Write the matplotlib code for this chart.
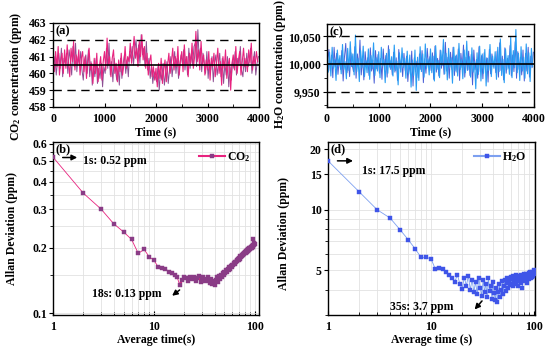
import numpy as np
import matplotlib
matplotlib.use('Agg')
import matplotlib.pyplot as plt
from matplotlib.ticker import FixedLocator, FixedFormatter, NullFormatter, MultipleLocator

# ---- data ----
# CO2 time series (pink trace), one value every 25 s
co2 = [460.9, 460.1, 461.3, 460.4, 461.6, 459.9, 460.8, 461.2, 460.0, 461.4,
       460.3, 461.7, 460.6, 459.8, 461.5, 460.7, 461.9, 460.2, 461.1, 460.5,
       461.4, 459.9, 460.9, 461.3, 460.1, 461.0, 459.7, 460.8, 461.5, 460.2,
       460.6, 459.4, 460.9, 460.0, 461.2, 459.5, 460.4, 461.0, 459.6, 460.7,
       461.3, 460.2, 462.1, 460.5, 461.0, 459.8, 460.9, 461.4, 460.0, 460.6,
       459.5, 460.8, 460.1, 461.2, 459.9, 460.5, 461.6, 460.3, 461.0, 460.7,
       461.8, 460.6, 461.3, 462.2, 460.9, 461.5, 460.4, 461.9, 461.0, 462.3,
       460.8, 461.6, 460.3, 461.2, 459.9, 460.7, 461.1, 459.8, 460.4, 459.6,
       460.3, 459.2, 460.6, 459.7, 460.9, 459.4, 460.2, 460.8, 459.5, 460.5,
       461.2, 460.0, 460.7, 461.5, 460.2, 461.0, 460.4, 461.6, 459.9, 460.8,
       461.3, 460.1, 461.7, 460.5, 461.0, 459.8, 461.2, 460.6, 461.8, 460.3,
       461.0, 462.5, 460.7, 461.4, 460.2, 461.9, 460.5, 461.1, 459.9, 460.8,
       460.2, 461.3, 459.6, 460.9, 460.4, 461.2, 459.8, 460.6, 461.5, 460.0,
       460.7, 459.3, 461.0, 460.3, 461.4, 459.7, 460.5, 460.9, 459.0, 460.6,
       461.1, 460.2, 461.6, 460.0, 460.8, 461.3, 459.9, 460.7, 461.5, 460.4,
       460.9, 460.1, 461.4, 460.6, 461.8, 460.2, 461.0, 460.5, 461.3, 460.7]
# CO2 time series (purple trace), half a step later
co2_b = [460.4, 461.0, 459.9, 460.7, 461.2, 460.3, 461.5, 459.8, 460.9, 460.6,
         461.2, 460.0, 461.4, 460.8, 459.9, 461.6, 460.4, 461.8, 460.1, 461.0,
         460.5, 461.3, 460.2, 459.6, 460.8, 461.1, 460.0, 461.4, 459.8, 460.7,
         459.3, 460.5, 459.8, 460.9, 459.4, 460.3, 459.7, 460.6, 459.2, 460.4,
         460.0, 461.5, 460.3, 461.8, 459.9, 460.7, 459.5, 460.9, 460.2, 459.6,
         460.4, 459.3, 460.9, 459.7, 460.6, 461.1, 460.0, 460.8, 459.8, 461.3,
         460.9, 461.6, 460.5, 461.4, 462.0, 460.8, 461.7, 460.6, 462.3, 461.1,
         461.5, 460.4, 461.9, 460.2, 460.9, 459.7, 460.5, 459.4, 460.1, 459.8,
         459.5, 460.4, 459.0, 460.1, 459.6, 460.6, 459.3, 460.0, 460.7, 459.4,
         460.2, 461.0, 459.8, 460.6, 461.3, 460.0, 460.9, 459.7, 460.5, 461.1,
         460.6, 461.4, 460.2, 461.0, 459.9, 461.5, 460.3, 461.2, 460.5, 461.6,
         461.8, 460.4, 462.6, 460.9, 461.5, 460.1, 461.2, 460.6, 460.0, 461.3,
         459.7, 460.8, 460.2, 461.0, 459.5, 460.6, 461.1, 459.9, 460.5, 461.2,
         459.8, 460.9, 459.4, 460.6, 459.9, 461.0, 459.2, 460.4, 459.6, 460.8,
         460.3, 461.3, 459.9, 460.9, 460.5, 461.6, 460.2, 459.8, 460.9, 460.1,
         461.2, 460.4, 460.8, 461.5, 460.0, 460.7, 461.3, 459.9, 460.6, 461.0]

# H2O time series (light blue trace), one value every 25 s
h2o = [10012, 9985, 10021, 9978, 10030, 9992, 10008, 9970, 10025, 9996,
       10015, 9982, 10035, 9990, 10004, 9973, 10028, 9988, 10040, 9995,
       10018, 9980, 10052, 9986, 10010, 9968, 10024, 9993, 10032, 9977,
       10006, 9984, 10027, 9972, 10015, 9991, 10038, 9979, 10011, 9987,
       10022, 9975, 10030, 9996, 10008, 9966, 10019, 9983, 10026, 9990,
       10013, 9978, 10034, 9988, 10005, 9962, 10020, 9985, 10029, 9993,
       10010, 9974, 10023, 9981, 10016, 9958, 10007, 9979, 10025, 9952,
       10012, 9970, 10031, 9986, 10018, 9976, 10036, 9992, 10009, 9980,
       10027, 9984, 10014, 9969, 10033, 9990, 10006, 9975, 10024, 9997,
       10044, 9982, 10019, 9971, 10028, 9994, 10011, 9965, 10030, 9987,
       10016, 9978, 10037, 9990, 10008, 9973, 10025, 9984, 10041, 9989,
       10013, 9976, 10029, 9985, 10004, 9955, 10020, 9981, 10032, 9969,
       10018, 9983, 10026, 9960, 10010, 9988, 10035, 9977, 10014, 9992,
       10022, 9972, 10030, 9986, 10045, 9979, 10008, 9966, 10027, 9990,
       10015, 9981, 10048, 9975, 10024, 9993, 10062, 9984, 10019, 9970,
       10031, 9987, 10012, 9974, 10036, 9982, 10020, 9968, 10028, 9995]
# H2O time series (dark blue trace), half a step later
h2o_b = [10003, 10026, 9988, 10016, 9975, 10030, 9994, 10019, 9981, 10009,
         9990, 10024, 9969, 10012, 10037, 9984, 10006, 9977, 10020, 9998,
         9986, 10031, 9974, 10018, 9992, 10043, 9980, 10014, 9971, 10022,
         9995, 10011, 9979, 10029, 9987, 10007, 9965, 10024, 9991, 10017,
         9983, 10010, 9972, 10027, 9989, 10015, 9976, 10033, 9994, 10006,
         9980, 10021, 9985, 10011, 9970, 10026, 9992, 10008, 9977, 10019,
         9988, 10014, 9968, 10002, 9981, 10023, 9960, 10011, 9986, 10005,
         9975, 10018, 9990, 10024, 9966, 10009, 9983, 10028, 9995, 10013,
         9988, 10020, 9972, 10032, 9985, 10010, 9978, 10025, 9992, 10016,
         9981, 10039, 9987, 10012, 9974, 10021, 9990, 10030, 9979, 10014,
         9985, 10027, 9970, 10019, 9993, 10034, 9976, 10012, 9988, 10023,
         9979, 10017, 9962, 10025, 9989, 10008, 9974, 10031, 9986, 10015,
         9973, 10020, 9990, 10011, 9967, 10026, 9982, 10018, 9995, 10007,
         9984, 10023, 9976, 10038, 9988, 10014, 9971, 10029, 9983, 10010,
         9992, 10033, 9978, 10016, 9986, 10040, 9974, 10022, 9990, 10012,
         9980, 10025, 9969, 10019, 9987, 10030, 9976, 10014, 9993, 10021]

dt = 25  # s between samples

# Allan deviation, tau = 1..100 s
tau = list(range(1, 101))
adev_co2 = [0.52, 0.355, 0.300, 0.257, 0.236, 0.218, 0.188, 0.196, 0.181, 0.175,
            0.163, 0.161, 0.160, 0.155, 0.152, 0.150, 0.146, 0.135, 0.142, 0.147,
            0.145, 0.140, 0.146, 0.143, 0.147, 0.141, 0.145, 0.148, 0.139, 0.144,
            0.146, 0.140, 0.143, 0.147, 0.141, 0.138, 0.144, 0.136, 0.140, 0.134,
            0.142, 0.146, 0.139, 0.148, 0.144, 0.150, 0.147, 0.153, 0.150, 0.155,
            0.152, 0.157, 0.155, 0.160, 0.158, 0.162, 0.160, 0.165, 0.163, 0.167,
            0.166, 0.170, 0.168, 0.172, 0.171, 0.175, 0.173, 0.177, 0.176, 0.180,
            0.178, 0.182, 0.181, 0.184, 0.183, 0.186, 0.185, 0.188, 0.187, 0.190,
            0.189, 0.192, 0.190, 0.194, 0.192, 0.196, 0.194, 0.198, 0.196, 0.200,
            0.198, 0.202, 0.199, 0.204, 0.201, 0.206, 0.220, 0.205, 0.210, 0.207]
adev_h2o = [17.5, 12.3, 10.0, 9.1, 7.96, 7.1, 6.4, 5.8, 5.8, 5.7,
            5.07, 5.12, 5.1, 4.9, 4.75, 4.6, 4.4, 4.75, 4.3, 4.05,
            4.6, 4.2, 4.7, 4.0, 4.5, 3.9, 4.4, 3.8, 4.6, 4.1,
            3.75, 4.5, 3.9, 4.3, 3.7, 4.6, 3.95, 4.2, 3.6, 4.4,
            3.85, 3.55, 4.1, 3.5, 3.9, 4.3, 3.7, 4.0, 4.45, 3.8,
            4.2, 4.5, 3.95, 4.35, 4.6, 4.1, 4.5, 4.25, 4.65, 4.3,
            4.55, 4.2, 4.7, 4.4, 4.6, 4.3, 4.75, 4.45, 4.6, 4.2,
            4.7, 4.5, 4.65, 4.35, 4.75, 4.5, 4.1, 4.7, 4.55, 4.8,
            4.45, 4.65, 4.8, 4.5, 4.7, 4.35, 4.75, 4.6, 4.85, 4.55,
            4.7, 4.9, 4.6, 4.8, 4.65, 4.9, 4.7, 4.85, 5.0, 4.8]

co2_mean, co2_band = 460.5, (459, 462)
h2o_mean, h2o_band = 10000, (9950, 10050)

# ---- style ----
plt.rcParams['font.family'] = ['Liberation Serif', 'DejaVu Serif']
plt.rcParams['font.weight'] = 'bold'
plt.rcParams['axes.labelweight'] = 'bold'
plt.rcParams['mathtext.fontset'] = 'custom'
plt.rcParams['mathtext.rm'] = 'Liberation Serif:bold'
plt.rcParams['mathtext.default'] = 'rm'
fs = 8.5
plt.rc('font', size=fs)
plt.rc('axes', linewidth=1.0)

fig = plt.figure(figsize=(5.5, 3.53), dpi=100)
ax_a = fig.add_axes([0.0964, 0.6969, 0.3745, 0.238])
ax_c = fig.add_axes([0.5945, 0.6969, 0.3764, 0.235])
ax_b = fig.add_axes([0.0964, 0.1076, 0.3745, 0.490])
ax_d = fig.add_axes([0.5964, 0.1076, 0.3764, 0.490])

co2_col, co2_col2, co2_mark = '#e8237f', '#8c4f93', '#8a3c86'
h2o_col, h2o_col2, h2o_mark = '#2a9df4', '#4a5fd6', '#3f55e8'


def time_panel(ax, vals, vals2, mean, band, col, col2, ylim, label, tag):
    t = np.arange(len(vals)) * dt
    ax.plot(t + dt / 2, vals2, color=col2, lw=0.7)
    ax.plot(t, vals, color=col, lw=0.8)
    ax.axhline(mean, color='k', lw=1.2)
    for b in band:
        ax.axhline(b, color='k', lw=1.0, dashes=(6, 4))
    ax.set_xlim(0, 4000)
    ax.set_ylim(*ylim)
    ax.xaxis.set_major_locator(MultipleLocator(1000))
    ax.xaxis.set_minor_locator(MultipleLocator(500))
    ax.tick_params(axis='x', which='both', direction='in', labelsize=fs, pad=4)
    ax.tick_params(axis='y', which='both', direction='out', labelsize=fs, pad=1.5)
    ax.tick_params(which='major', length=3)
    ax.tick_params(which='minor', length=2)
    ax.set_xlabel('Time (s)', fontsize=fs, labelpad=1)
    ax.set_ylabel(label, fontsize=fs)
    ax.text(0.012, 0.97, tag, transform=ax.transAxes, va='top', ha='left', fontsize=9)


time_panel(ax_a, co2, co2_b, co2_mean, co2_band, co2_col, co2_col2, (458, 463),
           'CO$_2$ concentration (ppm)', '(a)')
ax_a.yaxis.set_major_locator(MultipleLocator(1))
ax_a.yaxis.set_minor_locator(MultipleLocator(0.5))
ax_a.yaxis.set_label_coords(-0.14, 0.37)

time_panel(ax_c, h2o, h2o_b, h2o_mean, h2o_band, h2o_col, h2o_col2, (9922, 10072),
           'H$_2$O concentration (ppm)', '(c)')
ax_c.yaxis.set_major_locator(FixedLocator([9950, 10000, 10050]))
ax_c.yaxis.set_major_formatter(FixedFormatter(['9,950', '10,000', '10,050']))
ax_c.yaxis.set_minor_locator(FixedLocator([9925, 9975, 10025]))
ax_c.yaxis.set_label_coords(-0.19, 0.52)


def adev_panel(ax, vals, col, mcol, name, ylim, yt, ytl, yminor, xlab, tag, xmax):
    ax.plot(tau, vals, color=col, lw=0.6, zorder=2)
    ax.plot(tau, vals, ls='none', marker='s', ms=3.2, mfc=mcol, mec=mcol, mew=0.3,
            zorder=3, label=name)
    ax.set_xscale('log')
    ax.set_yscale('log')
    ax.set_xlim(1, xmax)
    ax.set_ylim(*ylim)
    ax.yaxis.set_major_locator(FixedLocator(yt))
    ax.yaxis.set_major_formatter(FixedFormatter(ytl))
    ax.yaxis.set_minor_locator(FixedLocator(yminor))
    ax.yaxis.set_minor_formatter(NullFormatter())
    ax.xaxis.set_major_locator(FixedLocator([1, 10, 100]))
    ax.xaxis.set_major_formatter(FixedFormatter(['1', '10', '100']))
    ax.grid(True, which='both', color='#e2e2e2', lw=0.6)
    ax.set_axisbelow(True)
    ax.tick_params(axis='x', which='both', direction='in', labelsize=fs, pad=4)
    ax.tick_params(axis='y', which='both', direction='out', labelsize=fs, pad=1.5)
    ax.tick_params(which='major', length=3)
    ax.tick_params(which='minor', length=2)
    ax.set_xlabel(xlab, fontsize=fs, labelpad=1)
    ax.set_ylabel('Allan Deviation (ppm)', fontsize=fs)
    ax.text(0.012, 0.995, tag, transform=ax.transAxes, va='top', ha='left', fontsize=9)
    ax.legend(loc='upper right', frameon=False, fontsize=fs, handlelength=2.2,
              handletextpad=0.2, borderaxespad=0.3, markerscale=1.0)
    h = ax.get_legend().legend_handles[0]
    h.set_linestyle('-')
    h.set_color(col)


adev_panel(ax_b, adev_co2, co2_col, co2_mark, 'CO$_2$', (0.098, 0.61),
           [0.1, 0.2, 0.3, 0.4, 0.5, 0.6], ['0.1', '0.2', '0.3', '0.4', '0.5', '0.6'],
           [0.15, 0.25, 0.35, 0.45, 0.55], 'Average time(s)', '(b)', 110)
ax_b.plot(tau[17:], adev_co2[17:], color=co2_col, lw=1.6, zorder=2.5)
ax_b.yaxis.set_label_coords(-0.17, 0.5)

adev_panel(ax_d, adev_h2o, '#7da0f0', h2o_mark, 'H$_2$O', (3.0, 21.7),
           [5, 10, 15, 20], ['5', '10', '15', '20'],
           [3, 4, 6, 7, 8, 9], 'Average time (s)', '(d)', 102)
ax_d.yaxis.set_label_coords(-0.184, 0.47)

# annotations
arr = dict(arrowstyle='-|>', color='k', lw=1.1, mutation_scale=8)
ax_b.annotate('', xy=(1.85, 0.518), xytext=(1.17, 0.518), arrowprops=arr)
ax_b.text(1.98, 0.497, '1s: 0.52 ppm', va='center', ha='left', fontsize=fs)
ax_b.annotate('', xy=(14.4, 0.118), xytext=(18.9, 0.130), arrowprops=arr)
ax_b.text(2.43, 0.122, '18s: 0.13 ppm', va='center', ha='left', fontsize=fs)

ax_d.annotate('', xy=(1.86, 17.5), xytext=(1.16, 17.5), arrowprops=arr)
ax_d.text(2.12, 15.6, '1s: 17.5 ppm', va='center', ha='left', fontsize=fs)
ax_d.annotate('', xy=(25.4, 3.12), xytext=(32.5, 3.61), arrowprops=arr)
ax_d.text(3.97, 3.30, '35s: 3.7 ppm', va='center', ha='left', fontsize=fs)

plt.savefig('out.png', dpi=100, facecolor='w')
